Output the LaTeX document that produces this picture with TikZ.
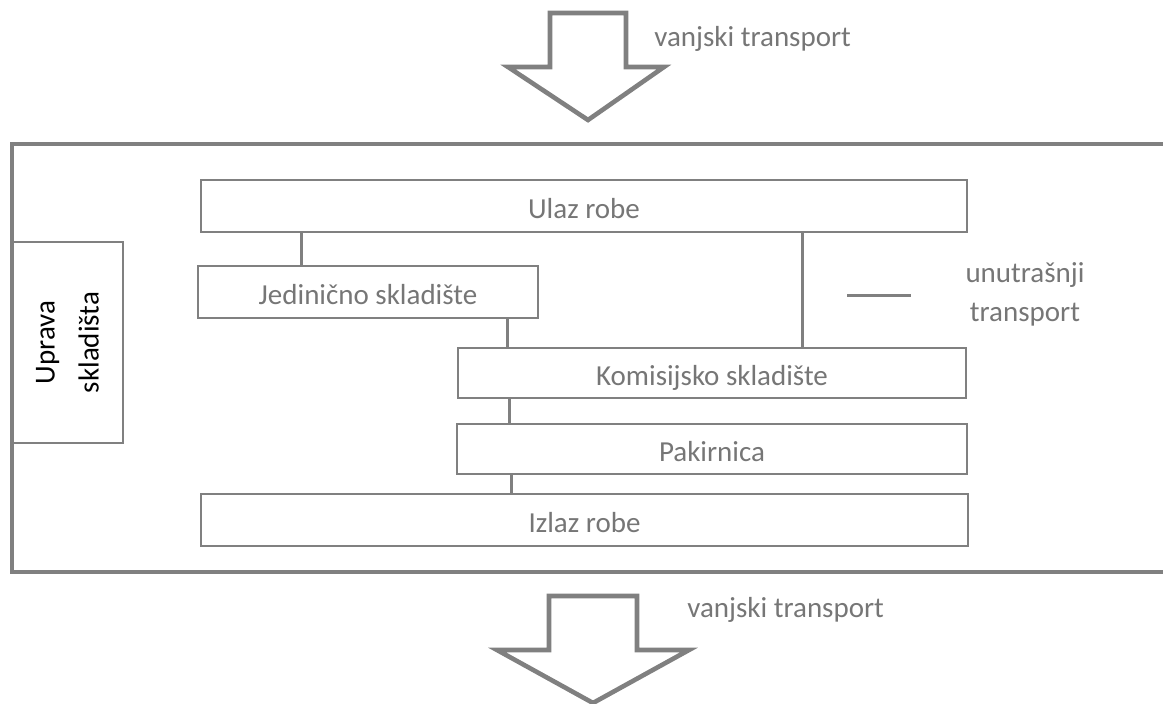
\documentclass[tikz,border=0pt]{standalone}
\usepackage{fontspec}
\setmainfont{Carlito}

\definecolor{linegray}{RGB}{128,128,128}
\definecolor{txtgray}{RGB}{118,118,118}
\newcommand{\boxfont}{\fontsize{14.5pt}{17pt}\selectfont}
\newcommand{\uprfont}{\fontsize{14.5pt}{22pt}\selectfont}

\begin{document}
\begin{tikzpicture}[x=0.5pt, y=-0.5pt,
    box/.style={draw=linegray, line width=1pt, inner sep=0pt, text=txtgray, font=\boxfont, text height=14pt, text depth=1pt},
    link/.style={draw=linegray, line width=1.5pt},
    bigarrow/.style={draw=linegray, line width=2.3pt},
    lbl/.style={text=txtgray, font=\boxfont, inner sep=0pt}]

\useasboundingbox (0,0) rectangle (1163,704);

% skladiste (okvir otvoren desno)
\draw [draw=linegray, line width=1.75pt] (1163,144) -- (12,144) -- (12,572) -- (1163,572);

% vanjski transport
\draw [bigarrow] (550,13) -- (626,13) -- (626,67) -- (664,67) -- (588,120) -- (508,67) -- (550,67) -- cycle;
\draw [bigarrow] (549,596) -- (637,596) -- (637,650) -- (689,650) -- (593,703) -- (497,650) -- (549,650) -- cycle;
\node [lbl, anchor=base west] (vanjUlaz) at (654,47) {vanjski transport};
\node [lbl, anchor=base west] (vanjIzlaz) at (687,618) {vanjski transport};

% uprava
\node [draw=linegray, line width=1pt, rotate=90, minimum width=100.5pt, minimum height=55.5pt, inner sep=0pt, align=center, font=\uprfont] (uprava) at (67.5,342.5) {Uprava\\skladišta};

% zone
\node [box, minimum width=383pt, minimum height=26pt] (ulaz) at (584,206) {Ulaz robe};
\node [box, minimum width=170pt, minimum height=26pt] (jed) at (368,292) {Jedinično skladište};
\node [box, minimum width=254pt, minimum height=25pt] (kom) at (712,373) {Komisijsko skladište};
\node [box, minimum width=255pt, minimum height=25pt] (pak) at (712,449) {Pakirnica};
\node [box, minimum width=383.5pt, minimum height=26pt] (izlaz) at (584.5,520) {Izlaz robe};

% unutrasnji transport
\coordinate (xUJ) at (301,0);
\coordinate (xJK) at (507,0);
\coordinate (xKP) at (509,0);
\coordinate (xPI) at (511,0);
\coordinate (xUK) at (802,0);
\draw [link] (ulaz.south -| xUJ) -- (jed.north -| xUJ);
\draw [link] (jed.south -| xJK) -- (kom.north -| xJK);
\draw [link] (kom.south -| xKP) -- (pak.north -| xKP);
\draw [link] (pak.south -| xPI) -- (izlaz.north -| xPI);
\draw [link] (ulaz.south -| xUK) -- (kom.north -| xUK);

% legenda
\coordinate (legA) at (847,296);
\coordinate (legB) at (911,296);
\draw [link] (legA) -- (legB);
\node [lbl, anchor=base] (unutr) at (1025,283) {unutrašnji};
\node [lbl, anchor=base] (transp) at (1025,322) {transport};

\end{tikzpicture}
\end{document}
